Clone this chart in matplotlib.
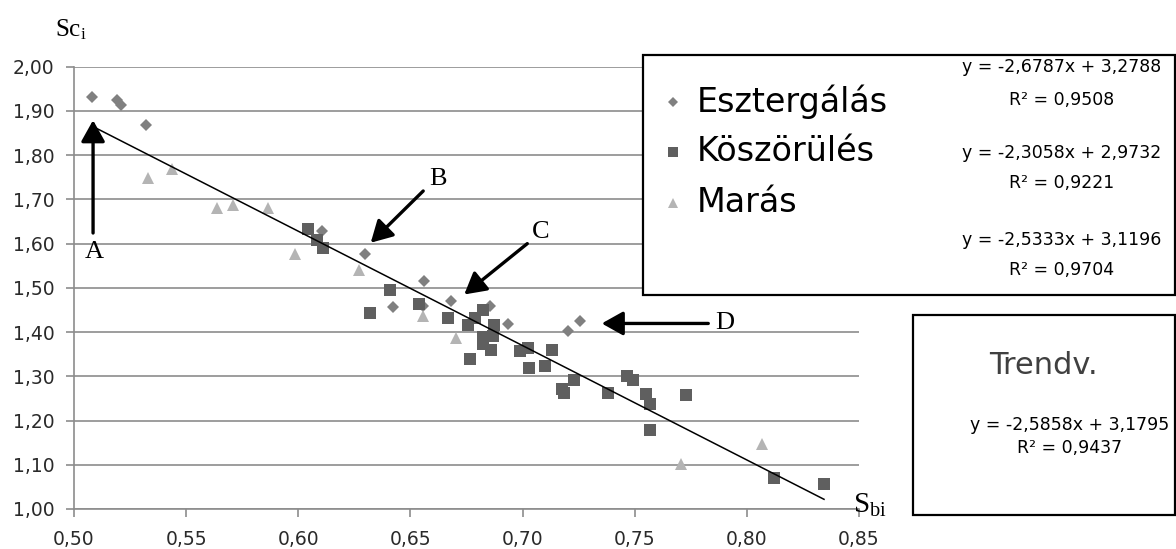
import matplotlib
matplotlib.use("Agg")
import numpy as np
import matplotlib.pyplot as plt
from matplotlib.patches import Rectangle
from matplotlib.lines import Line2D

plt.rcParams["font.family"] = ["DejaVu Sans"]
plt.rcParams["mathtext.fontset"] = "custom"
plt.rcParams["mathtext.rm"] = "Liberation Serif"

# data
eszt_x = [0.508, 0.519, 0.521, 0.532, 0.6105, 0.6297, 0.6424, 0.6557, 0.6562,
          0.668, 0.6855, 0.6936, 0.7204, 0.7256]
eszt_y = [1.931, 1.925, 1.913, 1.868, 1.628, 1.576, 1.457, 1.459, 1.515,
          1.470, 1.459, 1.419, 1.402, 1.425]

kosz_x = [0.6045, 0.6082, 0.6111, 0.6409, 0.632, 0.654, 0.6666, 0.6755, 0.6822,
          0.6788, 0.6874, 0.687, 0.6825, 0.6822, 0.6858, 0.6766, 0.6988, 0.7025,
          0.7132, 0.7027, 0.710, 0.7174, 0.7186, 0.7229, 0.7382, 0.7467, 0.7494,
          0.7549, 0.7566, 0.7566, 0.7727, 0.8122, 0.8344]
kosz_y = [1.634, 1.608, 1.591, 1.495, 1.444, 1.4625, 1.431, 1.417, 1.450,
          1.431, 1.416, 1.391, 1.389, 1.374, 1.359, 1.340, 1.357, 1.363,
          1.359, 1.318, 1.323, 1.272, 1.262, 1.291, 1.262, 1.301, 1.291,
          1.261, 1.238, 1.178, 1.257, 1.069, 1.056]

maras_x = [0.5331, 0.5436, 0.5636, 0.5707, 0.5866, 0.5986, 0.627, 0.6554,
           0.6703, 0.7706, 0.8066]
maras_y = [1.7475, 1.769, 1.681, 1.687, 1.681, 1.576, 1.540, 1.436,
           1.386, 1.101, 1.148]

series_names = ["Esztergálás", "Köszörülés", "Marás"]
series_eqs = [("y = -2,6787x + 3,2788", "R² = 0,9508"),
              ("y = -2,3058x + 2,9732", "R² = 0,9221"),
              ("y = -2,5333x + 3,1196", "R² = 0,9704")]
trend_slope, trend_icept = -2.5858, 3.1795
trend_eq = ("y = -2,5858x + 3,1795", "R² = 0,9437")

x_ticks = [0.50, 0.55, 0.60, 0.65, 0.70, 0.75, 0.80, 0.85]
x_labels = ["0,50", "0,55", "0,60", "0,65", "0,70", "0,75", "0,80", "0,85"]
y_ticks = [1.00, 1.10, 1.20, 1.30, 1.40, 1.50, 1.60, 1.70, 1.80, 1.90, 2.00]
y_labels = ["1,00", "1,10", "1,20", "1,30", "1,40", "1,50", "1,60", "1,70",
            "1,80", "1,90", "2,00"]

c_eszt = "#808080"
c_kosz = "#5f5f5f"
c_maras = "#b4b4b4"
grid_c = "#8c8c8c"

W, H = 1176, 549
fig = plt.figure(figsize=(W / 100, H / 100), dpi=100)


def fx(px):
    return px / W


def fy(py):
    return 1 - py / H


ax = fig.add_axes([fx(74), fy(509), (859 - 74) / W, (509 - 66.7) / H])
ax.set_xlim(0.50, 0.85)
ax.set_ylim(1.00, 2.00)

ax.set_xticks(x_ticks)
ax.set_xticklabels(x_labels)
ax.set_yticks(y_ticks)
ax.set_yticklabels(y_labels)
ax.tick_params(axis="both", colors=grid_c, labelcolor="#2a2a2a", labelsize=13.5,
               length=6, width=1.2)
ax.tick_params(axis="x", pad=9)
ax.tick_params(axis="y", pad=8)
ax.yaxis.grid(True, color=grid_c, lw=1.2)
ax.set_axisbelow(True)
for s in ["top", "right"]:
    ax.spines[s].set_visible(False)
for s in ["left", "bottom"]:
    ax.spines[s].set_color(grid_c)
    ax.spines[s].set_linewidth(1.2)

ax.plot(eszt_x, eszt_y, ls="none", marker="D", ms=6.6, color=c_eszt, mew=0, zorder=3)
ax.plot(kosz_x, kosz_y, ls="none", marker="s", ms=9, color=c_kosz, mew=0, zorder=3)
ax.plot(maras_x, maras_y, ls="none", marker="^", ms=9, color=c_maras, mew=0, zorder=3)

all_x = np.array(eszt_x + kosz_x + maras_x)
tx = np.array([all_x.min(), all_x.max()])
ax.plot(tx, trend_slope * tx + trend_icept, color="black", lw=1.1, zorder=4)

# arrows + letters
arw = dict(arrowstyle="-|>,head_length=0.5,head_width=0.28", lw=2.4, color="black",
           mutation_scale=26, shrinkA=0, shrinkB=0)
serif = dict(family="Liberation Serif", fontsize=19, ha="center", va="center")
ax.annotate("", xy=(0.5085, 1.879), xytext=(0.5085, 1.624), arrowprops=arw, zorder=5)
ax.text(0.509, 1.580, "A", **serif)
ax.annotate("", xy=(0.6323, 1.602), xytext=(0.6557, 1.719), arrowprops=arw, zorder=5)
ax.text(0.6623, 1.746, "B", **serif)
ax.annotate("", xy=(0.674, 1.485), xytext=(0.7021, 1.600), arrowprops=arw, zorder=5)
ax.text(0.7082, 1.627, "C", **serif)
ax.annotate("", xy=(0.7353, 1.4195), xytext=(0.7828, 1.4195), arrowprops=arw, zorder=5)
ax.text(0.7902, 1.4195, "D", **serif)

# axis titles
fig.text(fx(55), fy(30), r"$\mathrm{Sc_i}$", fontsize=18, ha="left", va="center")
fig.text(fx(853), fy(505), r"$\mathrm{S_{bi}}$", fontsize=21, ha="left", va="center")

# legend box
fig.add_artist(Rectangle((fx(643), fy(295)), fx(1175) - fx(643), fy(55) - fy(295),
                         transform=fig.transFigure, facecolor="white",
                         edgecolor="black", lw=1.6, zorder=5))
leg_y = [102, 152, 203]
leg_mk = [("D", 5.0, c_eszt), ("s", 7, c_kosz), ("^", 7.5, c_maras)]
for name, (m, ms, c), py in zip(series_names, leg_mk, leg_y):
    fig.add_artist(Line2D([fx(673)], [fy(py)], marker=m, ms=ms, color=c, mew=0,
                          ls="none", transform=fig.transFigure, zorder=6))
    fig.text(fx(697), fy(py), name, fontsize=24, ha="left", va="center",
             color="black", zorder=7)

eq_y = [(67, 100), (153, 183), (240, 270)]
for (e1, e2), (y1, y2) in zip(series_eqs, eq_y):
    fig.text(fx(1062), fy(y1), e1, fontsize=12.5, ha="center", va="center", zorder=7)
    fig.text(fx(1062), fy(y2), e2, fontsize=12.5, ha="center", va="center", zorder=7)

# trend box
fig.add_artist(Rectangle((fx(913), fy(515)), fx(1175) - fx(913), fy(315) - fy(515),
                         transform=fig.transFigure, facecolor="white",
                         edgecolor="black", lw=1.6, zorder=5))
fig.text(fx(1043), fy(366), "Trendv.", fontsize=22, ha="center", va="center",
         color="#404040", zorder=7)
fig.text(fx(1070), fy(425), trend_eq[0], fontsize=12.5, ha="center", va="center", zorder=7)
fig.text(fx(1070), fy(448), trend_eq[1], fontsize=12.5, ha="center", va="center", zorder=7)

fig.savefig("out.png", dpi=100)
